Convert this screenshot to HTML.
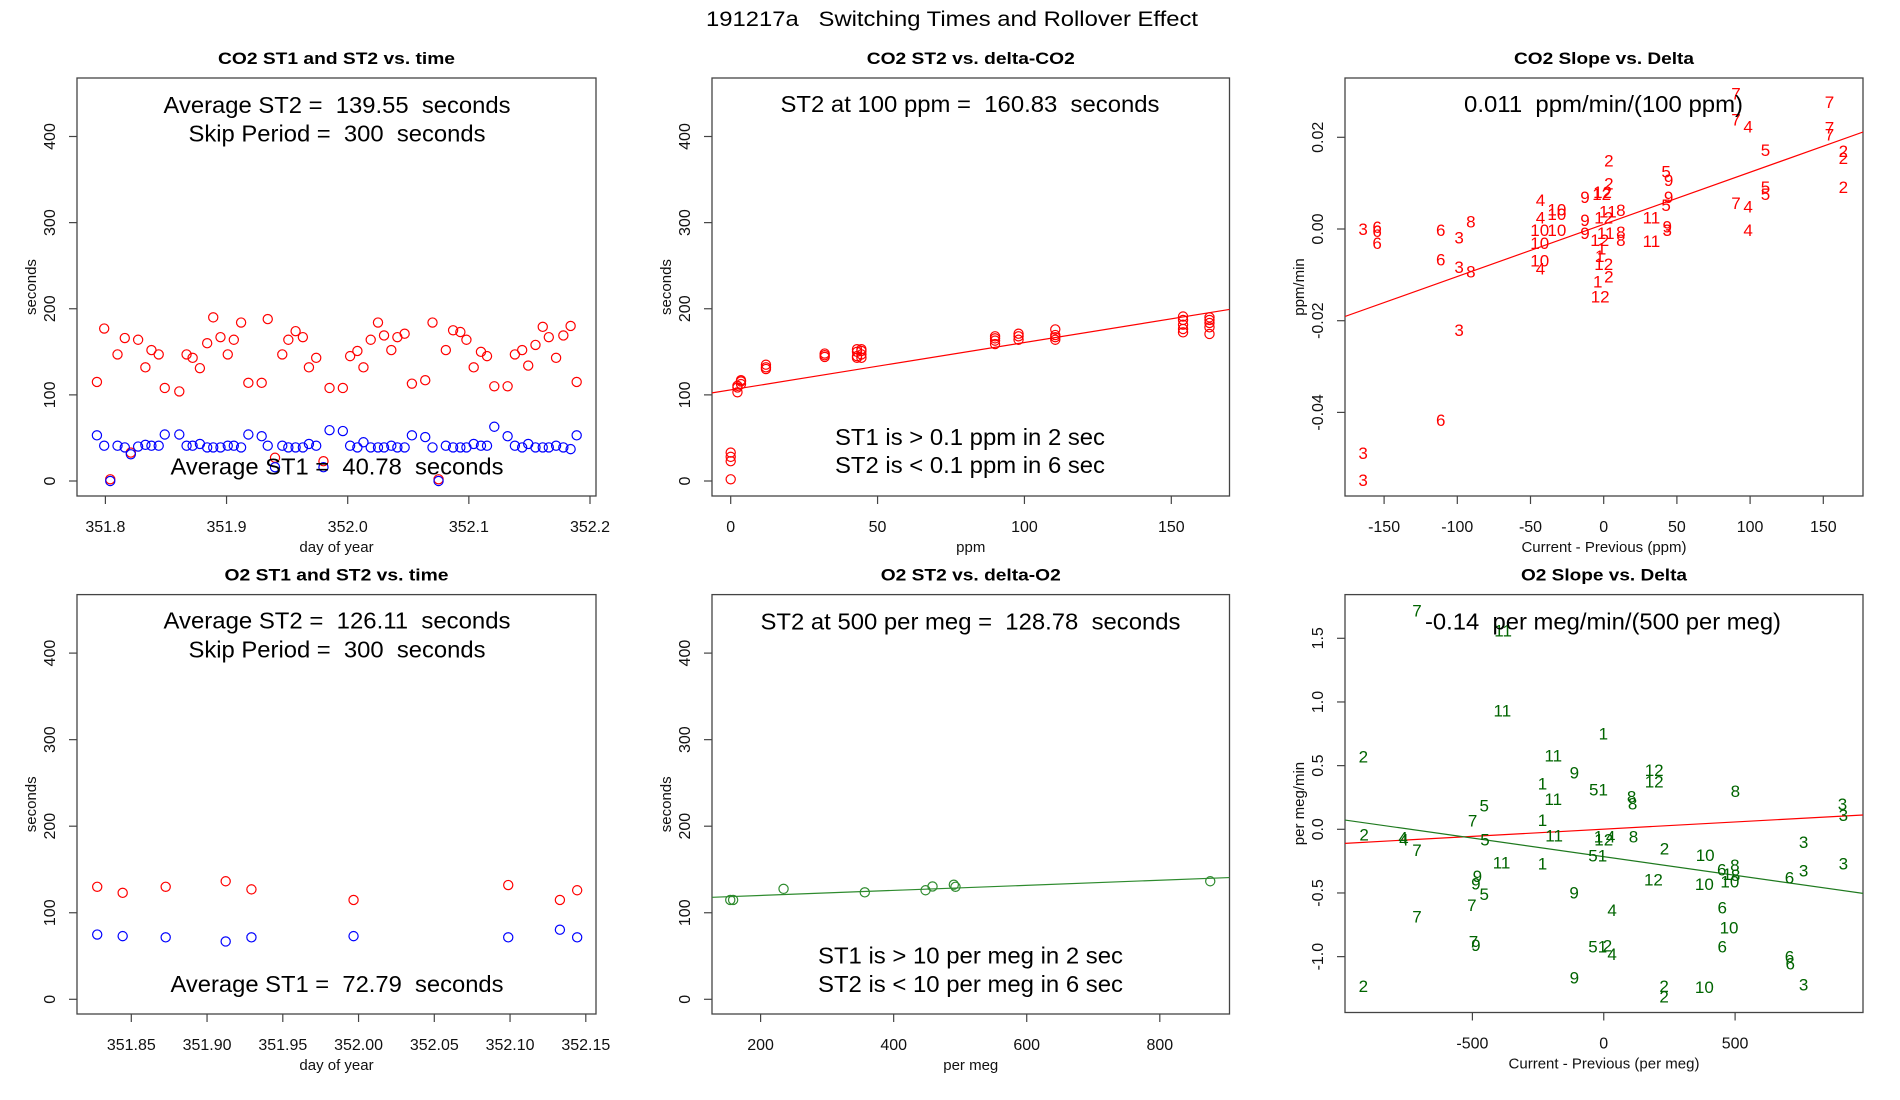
<!DOCTYPE html>
<html><head><meta charset="utf-8">
<style>
html,body{margin:0;padding:0;background:#fff;}
svg{display:block;font-family:"Liberation Sans",Arial,sans-serif;}
text{white-space:pre;}
</style></head>
<body>
<svg id="chart" width="1900" height="1100" viewBox="0 0 1900 1100" xmlns="http://www.w3.org/2000/svg">
<rect x="0" y="0" width="1900" height="1100" fill="#fff"/>
<text x="952" y="26" font-size="21" text-anchor="middle" textLength="492" lengthAdjust="spacingAndGlyphs">191217a   Switching Times and Rollover Effect</text>
</svg>
<script>
// ---------- data ----------
const co2Time = [351.793,351.799,351.804,351.810,351.816,351.821,351.827,351.833,351.838,351.844,351.849,351.861,351.867,351.872,351.878,351.884,351.889,351.895,351.901,351.906,351.912,351.918,351.929,351.934,351.940,351.946,351.951,351.957,351.963,351.968,351.974,351.980,351.985,351.996,352.002,352.008,352.013,352.019,352.025,352.030,352.036,352.041,352.047,352.053,352.064,352.070,352.075,352.081,352.087,352.093,352.098,352.104,352.110,352.115,352.121,352.132,352.138,352.144,352.149,352.155,352.161,352.166,352.172,352.178,352.184,352.189];
const co2ST2 = [115,177,2,147,166,33,164,132,152,147,108,104,147,143,131,160,190,167,147,164,184,114,114,188,27,147,164,174,167,132,143,23,108,108,145,151,132,164,184,169,152,167,171,113,117,184,2,152,175,173,164,132,150,145,110,110,147,152,134,158,179,167,143,169,180,115];
const co2ST1 = [53,41,0,41,39,31,40,42,41,41,54,54,41,41,43,39,39,39,41,41,39,54,52,41,16,41,39,39,39,43,41,16,59,58,41,39,45,39,39,39,41,39,39,53,51,39,0,41,39,39,39,43,41,41,63,52,41,39,43,39,39,39,41,39,37,53];

const co2Delta = [0,0,0,0,2.3,2.3,2.3,3.5,3.5,3.5,12,12,12,32,32,32,43,43,43,43,44.5,44.5,44.5,44.5,90,90,90,90,98,98,98,110.5,110.5,110.5,110.5,154,154,154,154,154,163,163,163,163,163];
const co2DeltaST2 = [2,23,28,33,103,108.6,110.5,112.5,115.6,117,135,132,130,148,146,144,153,150,145,143,153,151,147,143,168,165.6,163,159,171,168,164,176,169.5,167,164,191,187,181.5,176.5,172.6,190,187,183.5,178.4,170.7];
const co2FitIntercept = 105.8;
const co2FitSlope = 0.55;

const co2SlopeLabels = ["7","7","7","4","7","7","5","2","2","2","5","9","2","5","2","12","12","9","9","5","4","7","5","4","10","10","1","1","8","4","12","9","8","3","6","6","6","10","10","9","3","4","11","8","9","3","12","8","11","11","6","10","1","1","6","10","12","3","8","4","2","1","12","3","6","3","3"];
const co2SlopeX = [90.4,154.2,90.4,98.6,154.2,154.2,110.5,163.7,163.7,3.5,42.6,44.3,3.5,110.5,163.7,-0.8,-1.4,-12.8,44.3,110.5,-43.2,90.4,42.6,98.6,-32,-32,0,5.7,11.7,-43.2,0,-12.8,-90.7,-164.3,-154.8,-154.8,-111.3,-43.7,-32,43.4,43.4,98.6,1.4,11.7,-12.8,-98.8,-2.7,11.7,32.6,32.6,-154.8,-43.7,-1.4,-2.7,-111.3,-43.7,0,-98.8,-90.7,-43.2,3.5,-4.1,-2.4,-98.8,-111.3,-164.3,-164.3];
const co2SlopeY = [0.0295,0.0277,0.0239,0.0224,0.0221,0.0206,0.0172,0.0170,0.0155,0.0149,0.0125,0.0107,0.0099,0.0092,0.0092,0.0081,0.0076,0.0070,0.0070,0.0076,0.0063,0.0057,0.0052,0.0049,0.0043,0.0033,0.0038,0.0038,0.0041,0.0025,0.0025,0.0020,0.0016,0,0.0004,-0.0004,-0.0002,-0.0002,-0.0002,0.0005,-0.0002,-0.0002,-0.0009,-0.0006,-0.0009,-0.0018,-0.0024,-0.0024,0.0025,-0.0026,-0.0031,-0.0031,-0.0042,-0.0059,-0.0066,-0.0069,-0.0076,-0.0083,-0.0093,-0.0086,-0.0104,-0.0115,-0.0147,-0.0220,-0.0417,-0.0489,-0.0547];
const co2SlopeFitIntercept = 0.00101;
const co2SlopeFitSlope = 0.0001137;

const o2Time = [351.8275,351.8443,351.8727,351.9123,351.9293,351.9967,352.0988,352.1329,352.1443];
const o2ST2 = [130,123,130,136.4,127,114.8,132,114.8,126];
const o2ST1 = [74.8,73,71.6,66.8,71.6,73,71.6,80.4,71.6];

const o2Delta = [154.4,158.7,234.5,356.6,447.9,458.4,490.4,492.9,875.8];
const o2DeltaST2 = [114.8,114.8,127.6,123.6,126,130.4,132.4,130,136.4];
const o2FitIntercept = 114.13;
const o2FitSlope = 0.0293;

const o2SlopeLabels = ["7","11","11","1","2","11","9","12","12","1","51","8","8","8","11","5","3","3","7","1","2","4","4","11","5","12","1","4","8","3","7","2","10","51","11","1","6","8","1","8","10","3","6","3","9","9","12","10","5","9","7","4","6","7","10","7","9","51","2","4","6","6","6","9","3","2","2","10","2"];
const o2SlopeX = [-711,-383,-386,-1.5,-915,-192,-112,192,192,-233,-20,501,106,110,-192,-455,909,912,-499,-233,-912,-764,-761,-189,-452,0,-20,26,113,761,-711,231,386,-23,-389,-233,449,499,470,502,480,761,707,912,-481,-487,189,383,-455,-113,-502,32,451,-711,477,-496,-487,-23,14,32,451,707,710,-112,761,-915,230,383,230];
const o2SlopeY = [1.717,1.56,0.932,0.754,0.571,0.579,0.448,0.466,0.374,0.361,0.314,0.301,0.257,0.204,0.238,0.186,0.199,0.113,0.068,0.073,-0.039,-0.063,-0.079,-0.05,-0.079,-0.079,-0.058,-0.058,-0.058,-0.1,-0.162,-0.152,-0.2,-0.204,-0.262,-0.267,-0.314,-0.28,-0.35,-0.36,-0.41,-0.325,-0.377,-0.267,-0.366,-0.424,-0.393,-0.429,-0.508,-0.495,-0.594,-0.634,-0.613,-0.686,-0.772,-0.882,-0.908,-0.921,-0.914,-0.979,-0.921,-1.0,-1.052,-1.162,-1.217,-1.23,-1.23,-1.24,-1.314];
const o2RefIntercept = 0.001;
const o2RefSlope = 0.000113;
const o2SlopeFitIntercept = -0.215;
const o2SlopeFitSlope = -0.000292;

// ---------- helpers ----------
const NS = "http://www.w3.org/2000/svg";
const svg = document.getElementById('chart');
function mk(tag, attrs, parent){
  const e = document.createElementNS(NS, tag);
  for (const k in attrs) e.setAttribute(k, attrs[k]);
  (parent||svg).appendChild(e);
  return e;
}
function lin(v0,p0,v1,p1){ return v => p0 + (v-v0)*(p1-p0)/(v1-v0); }

let clipId = 0;
function panel(cfg){
  const g = mk('g', {});
  
  
  const [l,t,r,b] = cfg.box;
  const sx = lin(cfg.xv[0],cfg.xp[0],cfg.xv[1],cfg.xp[1]);
  const sy = lin(cfg.yv[0],cfg.yp[0],cfg.yv[1],cfg.yp[1]);
  const ti = mk('text', {x:(l+r)/2, y:t-14, 'font-size':17, 'font-weight':'bold', 'text-anchor':'middle', textLength:cfg.titleW, lengthAdjust:'spacingAndGlyphs'}, g);
  ti.textContent = cfg.title;
  
  
  const bx = mk('rect', {x:l, y:t, width:r-l, height:b-t, fill:'none', stroke:'#444', 'stroke-width':1.3}, g);
  
  
  const xa = mk('g', {}, g);
  
  
  cfg.xticks.forEach((v,i) => {
    const x = sx(v);
    mk('line', {x1:x, y1:b, x2:x, y2:b+8, stroke:'#444', 'stroke-width':1.2}, xa);
    const tx = mk('text', {x:x, y:b+36, 'font-size':16, 'text-anchor':'middle', fill:'#111'}, xa);
    tx.textContent = cfg.xtickLabels[i];
    
    
  });
  const xl = mk('text', {x:(l+r)/2, y:b+56, 'font-size':15, 'text-anchor':'middle', fill:'#111'}, g);
  xl.textContent = cfg.xlabel;
  
  
  const ya = mk('g', {}, g);
  
  
  cfg.yticks.forEach((v,i) => {
    const y = sy(v);
    mk('line', {x1:l, y1:y, x2:l-8, y2:y, stroke:'#444', 'stroke-width':1.2}, ya);
    const tx = mk('text', {x:0, y:0, 'font-size':16, 'text-anchor':'middle', fill:'#111', transform:`translate(${l-22},${y}) rotate(-90)`}, ya);
    tx.textContent = cfg.ytickLabels[i];
    
    
  });
  const yl = mk('text', {x:0, y:0, 'font-size':15, 'text-anchor':'middle', fill:'#111', transform:`translate(${l-41},${(t+b)/2}) rotate(-90)`}, g);
  yl.textContent = cfg.ylabel;
  
  
  clipId++;
  const cp = mk('clipPath', {id:'clip'+clipId}, g);
  mk('rect', {x:l, y:t, width:r-l, height:b-t}, cp);
  const plot = mk('g', {'clip-path':`url(#clip${clipId})`}, g);
  
  
  (cfg.notes||[]).forEach(n => {
    const tx = mk('text', {x:n.x, y:n.y+8, 'font-size':23, 'text-anchor':'middle', textLength:n.w, lengthAdjust:'spacingAndGlyphs'}, g);
    tx.textContent = n.s;
    
    
  });
  return {g, plot, sx, sy, l, r, t, b};
}

function circles(p, xs, ys, color, name){
  const grp = mk('g', {}, p.plot);
  
  
  xs.forEach((xv,i) => {
    const c = mk('circle', {cx:p.sx(xv), cy:p.sy(ys[i]), r:4.6, fill:'none', stroke:color, 'stroke-width':1.2}, grp);
    
    
  });
}
function fitLine(p, a, bslope, color, name){
  const inv = px => (px - p.sx(0))/(p.sx(1)-p.sx(0));
  const xa = inv(p.l), xb = inv(p.r);
  const ln = mk('line', {x1:p.sx(xa), y1:p.sy(a+bslope*xa), x2:p.sx(xb), y2:p.sy(a+bslope*xb), stroke:color, 'stroke-width':1.2}, p.plot);
  
  
}
function labels(p, labs, xs, ys, color, name){
  const grp = mk('g', {}, p.plot);
  
  
  labs.forEach((s,i) => {
    const tx = mk('text', {x:p.sx(xs[i]), y:p.sy(ys[i])+6, 'font-size':17, 'text-anchor':'middle', fill:color}, grp);
    tx.textContent = s;
    
    
  });
}

const secTicks = [0,100,200,300,400];
const secTickLabels = ["0","100","200","300","400"];

const p1 = panel({name:'co2-st-vs-time', box:[77,78,596,496], xv:[351.8,352.2], xp:[105.4,590], yv:[0,400], yp:[481,136.5],
  title:'CO2 ST1 and ST2 vs. time', titleW:237, xlabel:'day of year', ylabel:'seconds',
  xticks:[351.8,351.9,352.0,352.1,352.2], xtickLabels:["351.8","351.9","352.0","352.1","352.2"],
  yticks:secTicks, ytickLabels:secTickLabels,
  notes:[{s:'Average ST2 =  139.55  seconds', x:337, y:104.8, w:347},{s:'Skip Period =  300  seconds', x:337, y:133.5, w:297},{s:'Average ST1 =  40.78  seconds', x:337, y:466.6, w:333}]});
circles(p1, co2Time, co2ST2, '#ff0000', 'co2-st2-series');
circles(p1, co2Time, co2ST1, '#0000ff', 'co2-st1-series');

const p2 = panel({name:'co2-st2-vs-delta', box:[712,78,1229.5,496], xv:[0,150], xp:[730.7,1171.3], yv:[0,400], yp:[481,136.5],
  title:'CO2 ST2 vs. delta-CO2', titleW:208, xlabel:'ppm', ylabel:'seconds',
  xticks:[0,50,100,150], xtickLabels:["0","50","100","150"], yticks:secTicks, ytickLabels:secTickLabels,
  notes:[{s:'ST2 at 100 ppm =  160.83  seconds', x:970, y:104, w:379},{s:'ST1 is > 0.1 ppm in 2 sec', x:970, y:437, w:270},{s:'ST2 is < 0.1 ppm in 6 sec', x:970, y:465, w:270}]});
circles(p2, co2Delta, co2DeltaST2, '#ff0000', 'co2-st2-delta-series');
fitLine(p2, co2FitIntercept, co2FitSlope, '#ff0000', 'co2-fit-line');

const p3 = panel({name:'co2-slope-vs-delta', box:[1345,78,1863,496], xv:[-150,150], xp:[1384.1,1823.3], yv:[0,0.02], yp:[229,137.3],
  title:'CO2 Slope vs. Delta', titleW:180, xlabel:'Current - Previous (ppm)', ylabel:'ppm/min',
  xticks:[-150,-100,-50,0,50,100,150], xtickLabels:["-150","-100","-50","0","50","100","150"],
  yticks:[-0.04,-0.02,0,0.02], ytickLabels:["-0.04","-0.02","0.00","0.02"],
  notes:[{s:'0.011  ppm/min/(100 ppm)', x:1603.5, y:104, w:279}]});
fitLine(p3, co2SlopeFitIntercept, co2SlopeFitSlope, '#ff0000', 'co2-slope-fit-line');
labels(p3, co2SlopeLabels, co2SlopeX, co2SlopeY, '#ff0000', 'co2-slope-points');

const p4 = panel({name:'o2-st-vs-time', box:[77,594.6,596,1014], xv:[351.85,352.15], xp:[131.3,585.8], yv:[0,400], yp:[999.3,653.1],
  title:'O2 ST1 and ST2 vs. time', titleW:224, xlabel:'day of year', ylabel:'seconds',
  xticks:[351.85,351.9,351.95,352.0,352.05,352.1,352.15], xtickLabels:["351.85","351.90","351.95","352.00","352.05","352.10","352.15"],
  yticks:secTicks, ytickLabels:secTickLabels,
  notes:[{s:'Average ST2 =  126.11  seconds', x:337, y:620.6, w:347},{s:'Skip Period =  300  seconds', x:337, y:649.3, w:297},{s:'Average ST1 =  72.79  seconds', x:337, y:984, w:333}]});
circles(p4, o2Time, o2ST2, '#ff0000', 'o2-st2-series');
circles(p4, o2Time, o2ST1, '#0000ff', 'o2-st1-series');

const p5 = panel({name:'o2-st2-vs-delta', box:[712,594.6,1229.5,1014], xv:[200,800], xp:[760.6,1159.8], yv:[0,400], yp:[999.3,653.1],
  title:'O2 ST2 vs. delta-O2', titleW:180, xlabel:'per meg', ylabel:'seconds',
  xticks:[200,400,600,800], xtickLabels:["200","400","600","800"], yticks:secTicks, ytickLabels:secTickLabels,
  notes:[{s:'ST2 at 500 per meg =  128.78  seconds', x:970.5, y:621.6, w:420},{s:'ST1 is > 10 per meg in 2 sec', x:970.5, y:955.3, w:305},{s:'ST2 is < 10 per meg in 6 sec', x:970.5, y:984, w:305}]});
circles(p5, o2Delta, o2DeltaST2, '#2e8b2e', 'o2-st2-delta-series');
fitLine(p5, o2FitIntercept, o2FitSlope, '#2e8b2e', 'o2-fit-line');

const p6 = panel({name:'o2-slope-vs-delta', box:[1345,594.6,1863,1012.5], xv:[-500,500], xp:[1472.4,1735.1], yv:[0,1.5], yp:[829.3,638.3],
  title:'O2 Slope vs. Delta', titleW:166, xlabel:'Current - Previous (per meg)', ylabel:'per meg/min',
  xticks:[-500,0,500], xtickLabels:["-500","0","500"],
  yticks:[-1,-0.5,0,0.5,1,1.5], ytickLabels:["-1.0","-0.5","0.0","0.5","1.0","1.5"],
  notes:[{s:'-0.14  per meg/min/(500 per meg)', x:1603, y:621.7, w:356}]});
fitLine(p6, o2RefIntercept, o2RefSlope, '#ff0000', 'o2-reference-line');
fitLine(p6, o2SlopeFitIntercept, o2SlopeFitSlope, '#1f7a1f', 'o2-slope-fit-line');
labels(p6, o2SlopeLabels, o2SlopeX, o2SlopeY, '#006400', 'o2-slope-points');
</script>
</body></html>
